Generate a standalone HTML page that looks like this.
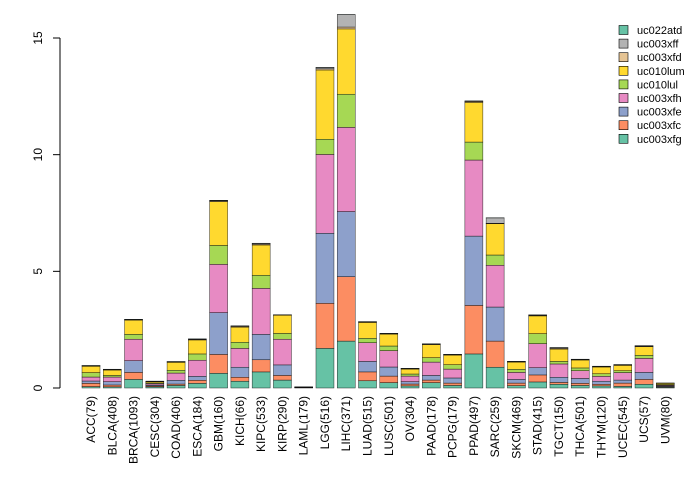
<!DOCTYPE html>
<html><head><meta charset="utf-8"><style>
body{margin:0;background:#fff;}
svg{display:block;font-family:"Liberation Sans",sans-serif;}
</style></head><body>
<svg id="chart" width="700" height="480" viewBox="0 0 700 480" xmlns="http://www.w3.org/2000/svg"></svg>
<script>
const categories=["ACC(79)","BLCA(408)","BRCA(1093)","CESC(304)","COAD(406)","ESCA(184)","GBM(160)","KICH(66)","KIPC(533)","KIRP(290)","LAML(179)","LGG(516)","LIHC(371)","LUAD(515)","LUSC(501)","OV(304)","PAAD(178)","PCPG(179)","PPAD(497)","SARC(259)","SKCM(469)","STAD(415)","TGCT(150)","THCA(501)","THYM(120)","UCEC(545)","UCS(57)","UVM(80)"];
const seriesNames=["uc003xfg","uc003xfc","uc003xfe","uc003xfh","uc010lul","uc010lum","uc003xfd","uc003xff","uc022atd"];
const uc003xfg=[.06,.05,.37,.05,.11,.2,.63,.29,.69,.34,.01,1.70,2.01,.31,.23,.09,.23,.11,1.46,.89,.1,.26,.16,.11,.09,.07,.16,.03];
const uc003xfc=[.14,.08,.30,.04,.06,.13,.81,.17,.52,.2,.005,1.93,2.76,.38,.28,.08,.11,.1,2.08,1.12,.11,.3,.08,.09,.07,.14,.21,.03];
const uc003xfe=[.1,.14,.50,.04,.16,.17,1.79,.43,1.09,.45,.005,3.0,2.79,.45,.39,.1,.2,.22,2.97,1.46,.16,.31,.22,.21,.13,.13,.3,.03];
const uc003xfh=[.17,.2,.92,.06,.31,.69,2.07,.81,1.97,1.1,.005,3.38,3.61,.8,.7,.24,.57,.38,3.26,1.79,.3,1.03,.57,.33,.21,.32,.6,.03];
const uc010lul=[.19,.07,.21,.03,.12,.27,.81,.26,.56,.25,.005,.65,1.42,.19,.2,.09,.19,.19,.77,.44,.13,.43,.11,.12,.11,.08,.13,.03];
const uc010lum=[.27,.23,.61,.05,.34,.6,1.88,.65,1.30,.78,.005,2.97,2.8,.68,.51,.21,.56,.41,1.7,1.34,.31,.76,.53,.34,.29,.23,.37,.05];
const uc003xfd=[.02,.02,.02,.01,.02,.02,.03,.03,.04,.01,.005,.05,.08,.02,.02,.02,.02,.02,.04,.02,.02,.02,.03,.02,.02,.02,.02,.005];
const uc003xff=[.01,.01,.01,.01,.01,.02,.02,.02,.03,.005,.005,.06,.53,.01,.01,.01,.01,.01,.02,.23,.01,.02,.03,.01,.01,.01,.02,.005];
const uc022atd=[.005,.005,.005,.005,.005,.005,.005,.005,.005,.005,.005,.005,.005,.005,.005,.005,.005,.005,.005,.005,.005,.005,.005,.005,.005,.005,.005,.005];
const yTicks=[0,5,10,15];
const series=[uc003xfg,uc003xfc,uc003xfe,uc003xfh,uc010lul,uc010lum,uc003xfd,uc003xff,uc022atd];
const colors=["#66C2A5","#FC8D62","#8DA0CB","#E78AC3","#A6D854","#FFD92F","#E5C494","#B3B3B3","#66C2A5"];
const NS="http://www.w3.org/2000/svg";
const svg=document.getElementById("chart");
function el(t,a){const e=document.createElementNS(NS,t);for(const k in a)e.setAttribute(k,a[k]);svg.appendChild(e);return e;}
const y=v=>388-v*(350/15);
const x=i=>91+i*21.27;
const bw=18;
categories.forEach((c,i)=>{
  let cum=0;
  series.forEach((s,j)=>{
    const v=s[i];
    const r=el("rect",{x:x(i)-bw/2,y:y(cum+v),width:bw,height:Math.max(0,y(cum)-y(cum+v)),fill:colors[j],stroke:"#000","stroke-width":0.5,"stroke-opacity":0.8});
    
    
    cum+=v;
  });
  const t=el("text",{x:0,y:0,transform:`translate(${x(i)+4},396) rotate(-90)`,"text-anchor":"end","font-size":12,fill:"#000"});
  t.textContent=c;
  
  
});
const ax=el("line",{x1:60,x2:60,y1:y(0),y2:y(15),stroke:"#000"});


yTicks.forEach(v=>{
  const tk=el("line",{x1:53,x2:60,y1:y(v),y2:y(v),stroke:"#000"});
  
  
  const t=el("text",{x:0,y:0,transform:`translate(42,${y(v)}) rotate(-90)`,"text-anchor":"middle","font-size":12,fill:"#000"});
  t.textContent=v;
  
  
});
for(let k=0;k<seriesNames.length;k++){
  const j=seriesNames.length-1-k;
  const yy=30+k*13.6;
  const r=el("rect",{x:619,y:yy-4.5,width:9,height:9,fill:colors[j],stroke:"#000","stroke-width":0.6});
  
  
  const t=el("text",{x:637,y:yy+4,"font-size":11,fill:"#000"});
  t.textContent=seriesNames[j];
  
  
}
</script>
</body></html>
